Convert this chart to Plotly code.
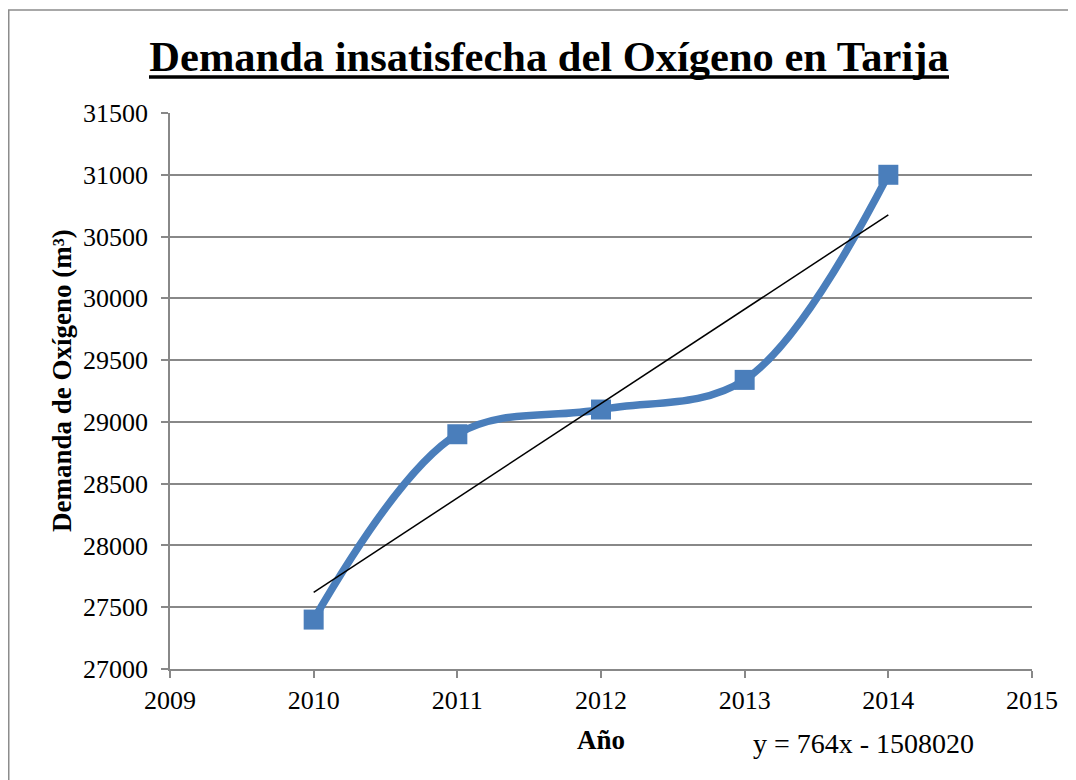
import numpy as np
import plotly.graph_objects as go

# Data
years = [2010, 2011, 2012, 2013, 2014]
demand = [27400, 28900, 29100, 29340, 31000]
x_ticks = [2009, 2010, 2011, 2012, 2013, 2014, 2015]
y_ticks = [27000, 27500, 28000, 28500, 29000, 29500, 30000, 30500, 31000, 31500]

title_text = "Demanda insatisfecha del Oxígeno en Tarija"
y_label = "Demanda de Oxígeno (m³)"
x_label = "Año"

# Linear trend from the data
slope, intercept = np.polyfit(years, demand, 1)
trend_x = [years[0], years[-1]]
trend_y = [slope * v + intercept for v in trend_x]
eq_text = f"y = {round(slope):d}x - {abs(round(intercept)):d}"

BLUE = "#4A7EBB"
GRID = "#888888"
FONT = "'Liberation Serif', 'Times New Roman', Times, serif"

fig = go.Figure()
fig.add_trace(go.Scatter(
    x=years, y=demand, mode="lines+markers",
    line=dict(color=BLUE, width=7.5, shape="spline", smoothing=1.0),
    marker=dict(symbol="square", size=20, color=BLUE),
    showlegend=False, hoverinfo="x+y",
))
fig.add_trace(go.Scatter(
    x=trend_x, y=trend_y, mode="lines",
    line=dict(color="black", width=1.5),
    showlegend=False, hoverinfo="skip",
))

OFF = 8  # page body margin
W, H = 1076 - OFF, 780 - OFF
L, R, T, B = 170 - OFF, 44, 113 - OFF, 111

fig.update_layout(
    width=W, height=H,
    margin=dict(l=L, r=R, t=T, b=B),
    paper_bgcolor="white", plot_bgcolor="white",
    font=dict(family=FONT, color="black", size=26),
    title=dict(
        text=f"<b>{title_text}</b>",
        font=dict(family=FONT, size=42.5, color="black"),
        x=(549 - OFF) / W, xanchor="center", xref="container",
        y=1 - (56 - OFF) / H, yanchor="middle", yref="container",
    ),
    xaxis=dict(
        range=[2009, 2015], tickmode="array", tickvals=x_ticks,
        ticktext=[str(v) for v in x_ticks],
        showgrid=False, zeroline=False,
        showline=True, linecolor=GRID, linewidth=1.5,
        ticks="outside", ticklen=7, tickcolor=GRID, tickwidth=1.5,
        tickfont=dict(family=FONT, size=26, color="black"),
    ),
    yaxis=dict(
        range=[27000, 31500], tickmode="array", tickvals=y_ticks,
        ticktext=[str(v) for v in y_ticks],
        showgrid=True, gridcolor=GRID, gridwidth=1.5, zeroline=False,
        showline=True, linecolor=GRID, linewidth=1.5,
        ticks="outside", ticklen=7, tickcolor=GRID, tickwidth=1.5,
        ticklabelstandoff=8,
        tickfont=dict(family=FONT, size=26, color="black"),
    ),
)

pw = W - L - R
ph = H - T - B

def px_x(p):
    return (p - OFF - L) / pw

def px_y(p):
    return (H - B - (p - OFF)) / ph

# title underline
fig.add_shape(
    type="line", xref="paper", yref="paper",
    x0=px_x(149), x1=px_x(949), y0=px_y(77), y1=px_y(77),
    line=dict(color="black", width=3.5),
)
# y-axis title
fig.add_annotation(
    text=f"<b>{y_label}</b>", textangle=-90,
    x=px_x(62), y=px_y(381), xref="paper", yref="paper",
    showarrow=False, xanchor="center", yanchor="middle",
    font=dict(family=FONT, size=27, color="black"),
)
# x-axis title
fig.add_annotation(
    text=f"<b>{x_label}</b>",
    x=px_x(601), y=px_y(740), xref="paper", yref="paper",
    showarrow=False, xanchor="center", yanchor="middle",
    font=dict(family=FONT, size=27, color="black"),
)
# trend equation
fig.add_annotation(
    text=eq_text,
    x=px_x(863), y=px_y(743), xref="paper", yref="paper",
    showarrow=False, xanchor="center", yanchor="middle",
    font=dict(family=FONT, size=28, color="black"),
)
# chart border
fig.add_shape(
    type="rect", xref="paper", yref="paper",
    x0=px_x(8.75), x1=px_x(1200), y0=px_y(900), y1=px_y(10),
    line=dict(color="#8c8c8c", width=1.5), fillcolor="rgba(0,0,0,0)",
    layer="below",
)

fig.write_html("out.html")
